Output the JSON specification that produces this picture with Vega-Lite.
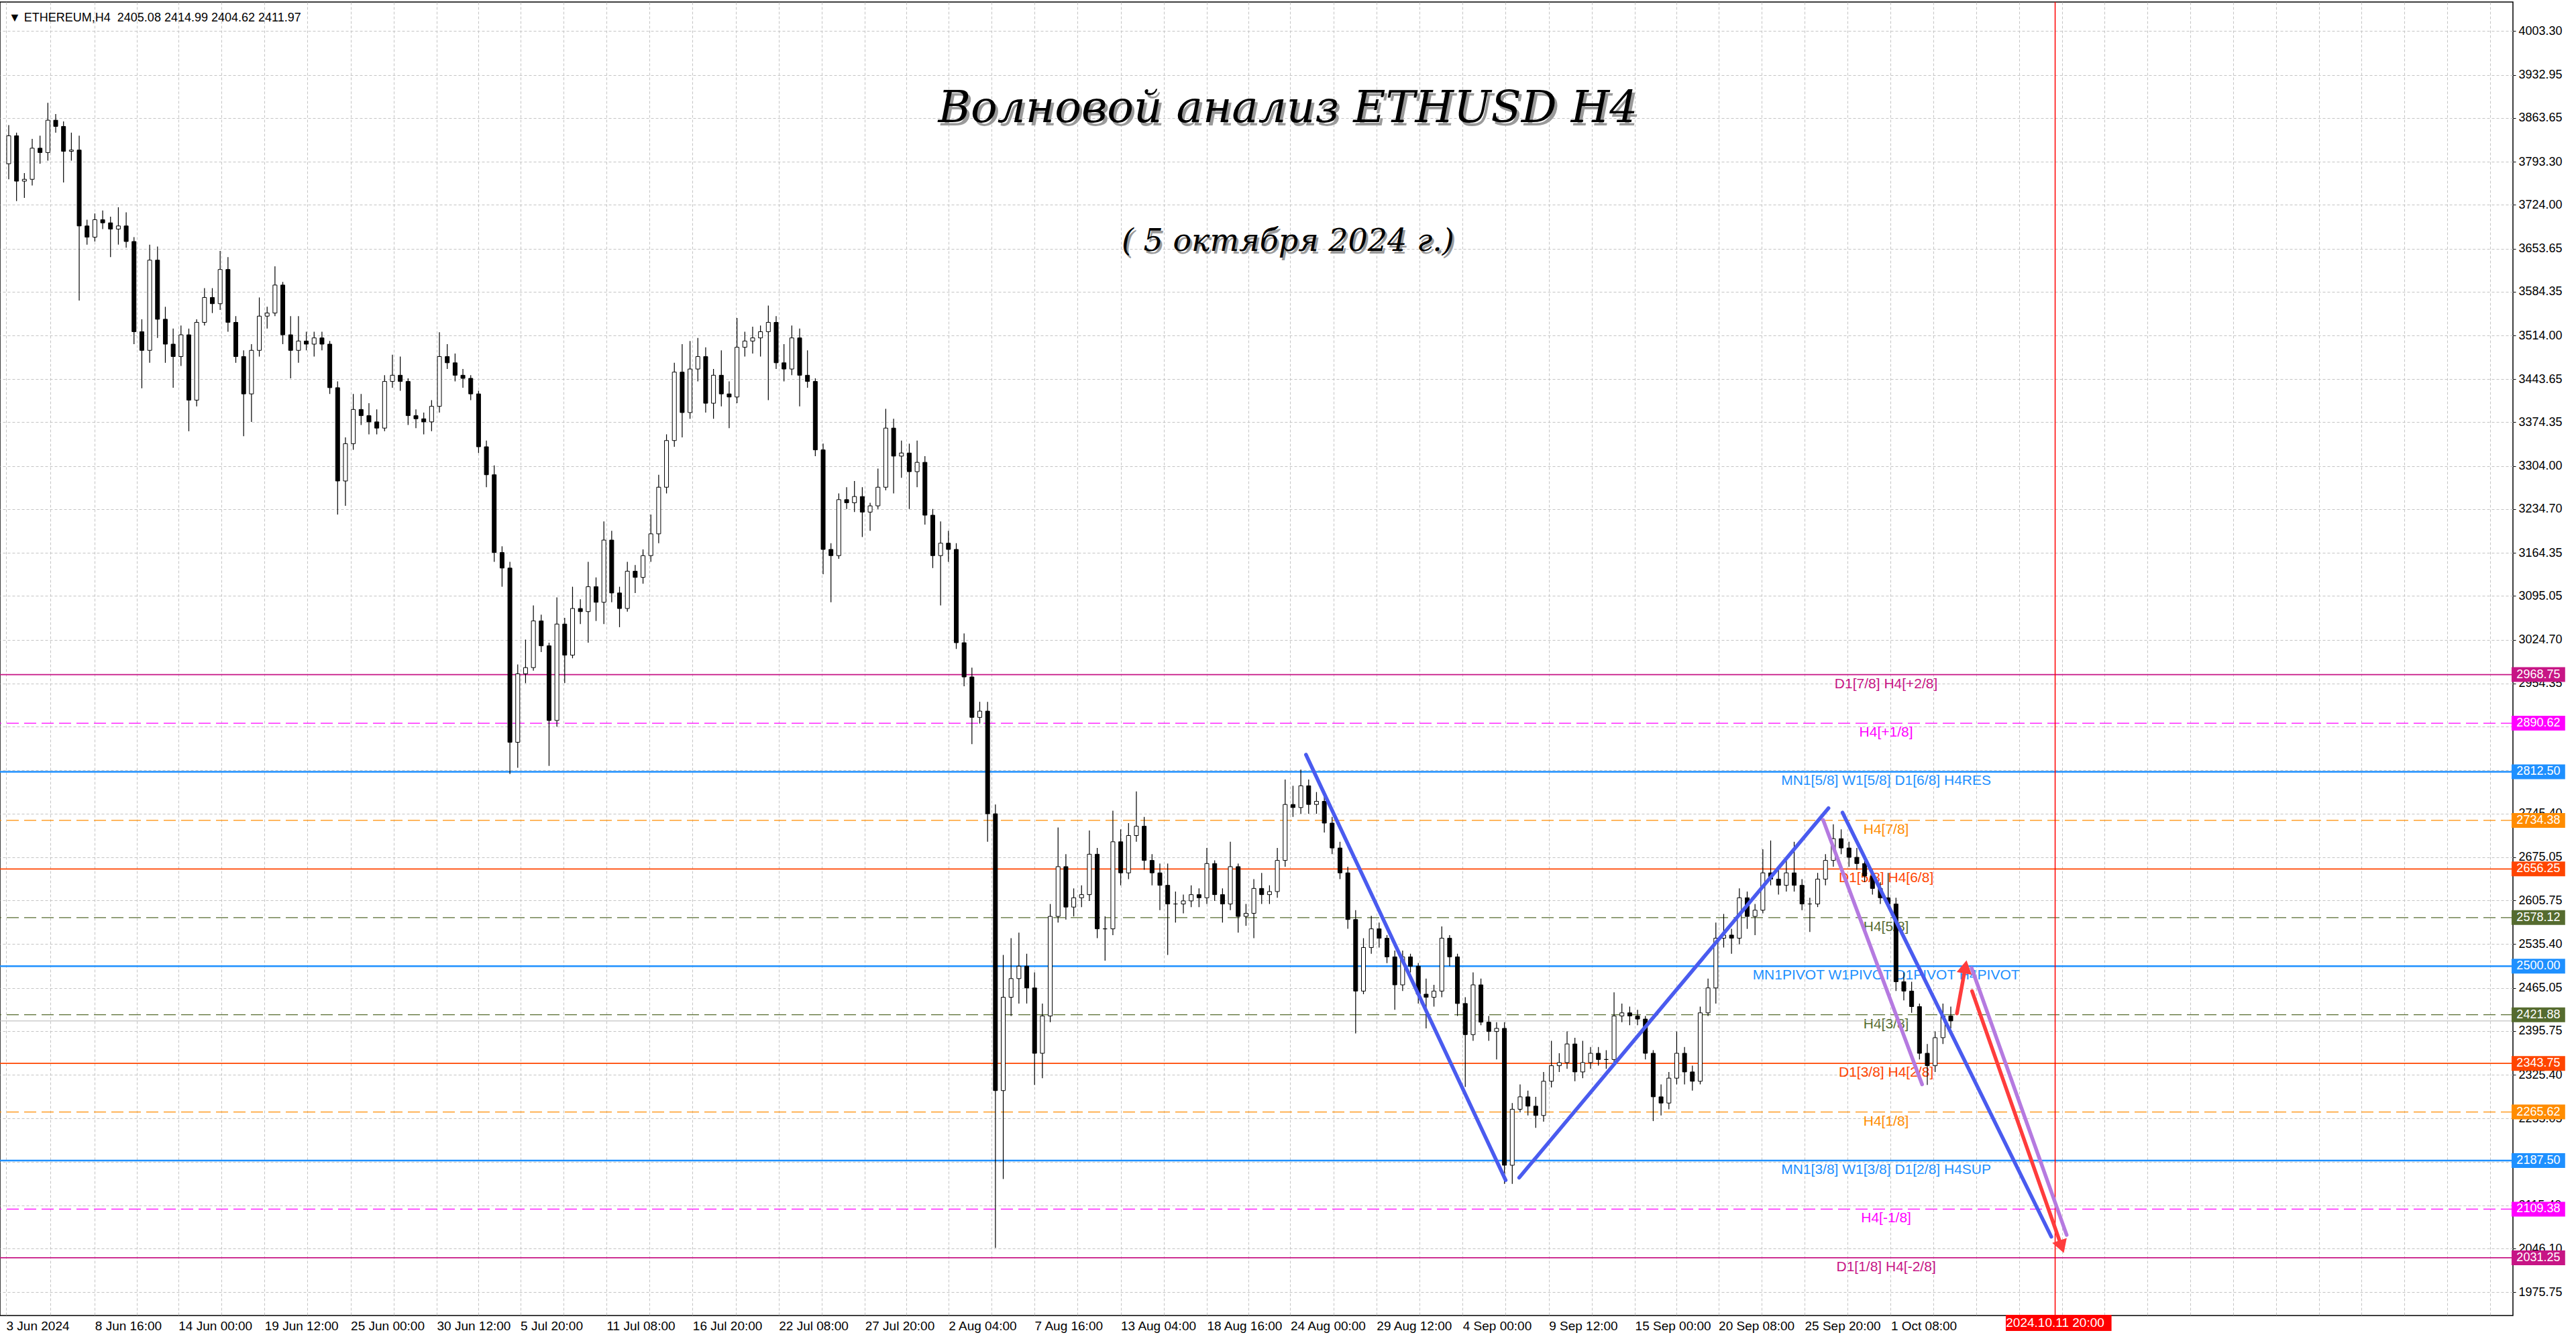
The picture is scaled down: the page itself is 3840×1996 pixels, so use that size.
{
  "$schema": "https://vega.github.io/schema/vega-lite/v6.json",
  "width": 3746,
  "height": 1958,
  "autosize": {"type": "none"},
  "padding": {"left": 0, "top": 3, "right": 94, "bottom": 35},
  "background": "#ffffff",
  "config": {
    "view": {"stroke": "#000000", "strokeWidth": 1.5},
    "text": {"font": "Liberation Sans"}
  },
  "data": {"values": [{}]},
  "datasets": {
    "levels": [
      {"name": "D1[7/8] H4[+2/8]", "p": 2968.75, "frame": "D1"},
      {"name": "H4[+1/8]", "p": 2890.62, "frame": "H4"},
      {"name": "MN1[5/8] W1[5/8] D1[6/8] H4RES", "p": 2812.50, "frame": "MN1"},
      {"name": "H4[7/8]", "p": 2734.38, "frame": "H4"},
      {"name": "D1[5/8] H4[6/8]", "p": 2656.25, "frame": "D1"},
      {"name": "H4[5/8]", "p": 2578.12, "frame": "H4"},
      {"name": "MN1PIVOT W1PIVOT D1PIVOT H4PIVOT", "p": 2500.00, "frame": "MN1"},
      {"name": "H4[3/8]", "p": 2421.88, "frame": "H4"},
      {"name": "D1[3/8] H4[2/8]", "p": 2343.75, "frame": "D1"},
      {"name": "H4[1/8]", "p": 2265.62, "frame": "H4"},
      {"name": "MN1[3/8] W1[3/8] D1[2/8] H4SUP", "p": 2187.50, "frame": "MN1"},
      {"name": "H4[-1/8]", "p": 2109.38, "frame": "H4"},
      {"name": "D1[1/8] H4[-2/8]", "p": 2031.25, "frame": "D1"}
    ],
    "waves": [
      {"kind": "wave", "t1": "2024-08-25T00:00", "p1": 2840, "t2": "2024-09-06T18:00", "p2": 2156},
      {"kind": "wave", "t1": "2024-09-07T14:40", "p1": 2160, "t2": "2024-09-27T08:40", "p2": 2754},
      {"kind": "wave", "t1": "2024-09-28T06:10", "p1": 2747, "t2": "2024-10-11T14:10", "p2": 2065},
      {"kind": "channel", "t1": "2024-09-27T00:30", "p1": 2735, "t2": "2024-10-03T08:10", "p2": 2310},
      {"kind": "channel", "t1": "2024-10-06T12:00", "p1": 2497, "t2": "2024-10-12T13:40", "p2": 2068},
      {"kind": "forecast", "t1": "2024-10-05T13:30", "p1": 2424, "t2": "2024-10-06T02:30", "p2": 2499},
      {"kind": "forecast", "t1": "2024-10-06T12:40", "p1": 2460, "t2": "2024-10-12T06:00", "p2": 2049}
    ],
    "candles": [
      {"t":"2024-06-03T00:00","o":3790,"h":3852,"l":3765,"c":3835},
      {"t":"2024-06-03T12:00","o":3835,"h":3840,"l":3730,"c":3762},
      {"t":"2024-06-04T00:00","o":3762,"h":3775,"l":3735,"c":3765},
      {"t":"2024-06-04T12:00","o":3765,"h":3830,"l":3755,"c":3815},
      {"t":"2024-06-05T00:00","o":3815,"h":3835,"l":3790,"c":3808},
      {"t":"2024-06-05T12:00","o":3808,"h":3888,"l":3795,"c":3860},
      {"t":"2024-06-06T00:00","o":3860,"h":3870,"l":3840,"c":3850},
      {"t":"2024-06-06T12:00","o":3850,"h":3858,"l":3760,"c":3810},
      {"t":"2024-06-07T00:00","o":3810,"h":3840,"l":3795,"c":3812},
      {"t":"2024-06-07T12:00","o":3812,"h":3835,"l":3570,"c":3690},
      {"t":"2024-06-08T00:00","o":3690,"h":3700,"l":3660,"c":3672},
      {"t":"2024-06-08T12:00","o":3672,"h":3710,"l":3665,"c":3700},
      {"t":"2024-06-09T00:00","o":3700,"h":3715,"l":3685,"c":3695},
      {"t":"2024-06-09T12:00","o":3695,"h":3705,"l":3640,"c":3685},
      {"t":"2024-06-10T00:00","o":3685,"h":3720,"l":3660,"c":3690},
      {"t":"2024-06-10T12:00","o":3690,"h":3712,"l":3655,"c":3665},
      {"t":"2024-06-11T00:00","o":3665,"h":3672,"l":3500,"c":3520},
      {"t":"2024-06-11T12:00","o":3520,"h":3540,"l":3429,"c":3490},
      {"t":"2024-06-12T00:00","o":3490,"h":3660,"l":3470,"c":3635},
      {"t":"2024-06-12T12:00","o":3635,"h":3657,"l":3510,"c":3540},
      {"t":"2024-06-13T00:00","o":3540,"h":3560,"l":3470,"c":3500},
      {"t":"2024-06-13T12:00","o":3500,"h":3525,"l":3430,"c":3480},
      {"t":"2024-06-14T00:00","o":3480,"h":3530,"l":3465,"c":3515},
      {"t":"2024-06-14T12:00","o":3515,"h":3525,"l":3360,"c":3410},
      {"t":"2024-06-15T00:00","o":3410,"h":3540,"l":3400,"c":3535},
      {"t":"2024-06-15T12:00","o":3535,"h":3590,"l":3530,"c":3575},
      {"t":"2024-06-16T00:00","o":3575,"h":3590,"l":3550,"c":3565},
      {"t":"2024-06-16T12:00","o":3565,"h":3650,"l":3555,"c":3620},
      {"t":"2024-06-17T00:00","o":3620,"h":3640,"l":3520,"c":3535},
      {"t":"2024-06-17T12:00","o":3535,"h":3545,"l":3470,"c":3480},
      {"t":"2024-06-18T00:00","o":3480,"h":3490,"l":3352,"c":3420},
      {"t":"2024-06-18T12:00","o":3420,"h":3500,"l":3375,"c":3490},
      {"t":"2024-06-19T00:00","o":3490,"h":3575,"l":3480,"c":3545},
      {"t":"2024-06-19T12:00","o":3545,"h":3560,"l":3525,"c":3550},
      {"t":"2024-06-20T00:00","o":3550,"h":3625,"l":3545,"c":3595},
      {"t":"2024-06-20T12:00","o":3595,"h":3600,"l":3500,"c":3515},
      {"t":"2024-06-21T00:00","o":3515,"h":3545,"l":3445,"c":3490},
      {"t":"2024-06-21T12:00","o":3490,"h":3545,"l":3470,"c":3505},
      {"t":"2024-06-22T00:00","o":3505,"h":3520,"l":3490,"c":3500},
      {"t":"2024-06-22T12:00","o":3500,"h":3520,"l":3480,"c":3510},
      {"t":"2024-06-23T00:00","o":3510,"h":3520,"l":3490,"c":3500},
      {"t":"2024-06-23T12:00","o":3500,"h":3505,"l":3420,"c":3430},
      {"t":"2024-06-24T00:00","o":3430,"h":3440,"l":3226,"c":3280},
      {"t":"2024-06-24T12:00","o":3280,"h":3350,"l":3240,"c":3340},
      {"t":"2024-06-25T00:00","o":3340,"h":3420,"l":3330,"c":3395},
      {"t":"2024-06-25T12:00","o":3395,"h":3420,"l":3370,"c":3385},
      {"t":"2024-06-26T00:00","o":3385,"h":3405,"l":3355,"c":3375},
      {"t":"2024-06-26T12:00","o":3375,"h":3395,"l":3355,"c":3365},
      {"t":"2024-06-27T00:00","o":3365,"h":3450,"l":3360,"c":3440},
      {"t":"2024-06-27T12:00","o":3440,"h":3483,"l":3430,"c":3450},
      {"t":"2024-06-28T00:00","o":3450,"h":3480,"l":3425,"c":3440},
      {"t":"2024-06-28T12:00","o":3440,"h":3445,"l":3370,"c":3385},
      {"t":"2024-06-29T00:00","o":3385,"h":3395,"l":3365,"c":3380},
      {"t":"2024-06-29T12:00","o":3380,"h":3390,"l":3355,"c":3375},
      {"t":"2024-06-30T00:00","o":3375,"h":3410,"l":3360,"c":3400},
      {"t":"2024-06-30T12:00","o":3400,"h":3519,"l":3390,"c":3480},
      {"t":"2024-07-01T00:00","o":3480,"h":3500,"l":3460,"c":3470},
      {"t":"2024-07-01T12:00","o":3470,"h":3485,"l":3440,"c":3450},
      {"t":"2024-07-02T00:00","o":3450,"h":3460,"l":3430,"c":3445},
      {"t":"2024-07-02T12:00","o":3445,"h":3450,"l":3410,"c":3420},
      {"t":"2024-07-03T00:00","o":3420,"h":3425,"l":3325,"c":3335},
      {"t":"2024-07-03T12:00","o":3335,"h":3345,"l":3270,"c":3290},
      {"t":"2024-07-04T00:00","o":3290,"h":3305,"l":3150,"c":3165},
      {"t":"2024-07-04T12:00","o":3165,"h":3175,"l":3110,"c":3140},
      {"t":"2024-07-05T00:00","o":3140,"h":3150,"l":2809,"c":2860},
      {"t":"2024-07-05T12:00","o":2860,"h":2985,"l":2819,"c":2970},
      {"t":"2024-07-06T00:00","o":2970,"h":3025,"l":2955,"c":2980},
      {"t":"2024-07-06T12:00","o":2980,"h":3080,"l":2975,"c":3055},
      {"t":"2024-07-07T00:00","o":3055,"h":3065,"l":3005,"c":3015},
      {"t":"2024-07-07T12:00","o":3015,"h":3020,"l":2822,"c":2895},
      {"t":"2024-07-08T00:00","o":2895,"h":3093,"l":2885,"c":3050},
      {"t":"2024-07-08T12:00","o":3050,"h":3060,"l":2955,"c":3000},
      {"t":"2024-07-09T00:00","o":3000,"h":3110,"l":2995,"c":3075},
      {"t":"2024-07-09T12:00","o":3075,"h":3090,"l":3050,"c":3070},
      {"t":"2024-07-10T00:00","o":3070,"h":3150,"l":3020,"c":3110},
      {"t":"2024-07-10T12:00","o":3110,"h":3125,"l":3055,"c":3085},
      {"t":"2024-07-11T00:00","o":3085,"h":3215,"l":3050,"c":3185},
      {"t":"2024-07-11T12:00","o":3185,"h":3200,"l":3085,"c":3100},
      {"t":"2024-07-12T00:00","o":3100,"h":3110,"l":3045,"c":3075},
      {"t":"2024-07-12T12:00","o":3075,"h":3150,"l":3070,"c":3135},
      {"t":"2024-07-13T00:00","o":3135,"h":3145,"l":3100,"c":3125},
      {"t":"2024-07-13T12:00","o":3125,"h":3170,"l":3115,"c":3160},
      {"t":"2024-07-14T00:00","o":3160,"h":3226,"l":3150,"c":3195},
      {"t":"2024-07-14T12:00","o":3195,"h":3290,"l":3180,"c":3270},
      {"t":"2024-07-15T00:00","o":3270,"h":3355,"l":3260,"c":3345},
      {"t":"2024-07-15T12:00","o":3345,"h":3470,"l":3335,"c":3455},
      {"t":"2024-07-16T00:00","o":3455,"h":3500,"l":3350,"c":3390},
      {"t":"2024-07-16T12:00","o":3390,"h":3505,"l":3380,"c":3460},
      {"t":"2024-07-17T00:00","o":3460,"h":3510,"l":3440,"c":3480},
      {"t":"2024-07-17T12:00","o":3480,"h":3495,"l":3390,"c":3405},
      {"t":"2024-07-18T00:00","o":3405,"h":3460,"l":3380,"c":3450},
      {"t":"2024-07-18T12:00","o":3450,"h":3490,"l":3400,"c":3420},
      {"t":"2024-07-19T00:00","o":3420,"h":3440,"l":3365,"c":3415},
      {"t":"2024-07-19T12:00","o":3415,"h":3542,"l":3405,"c":3495},
      {"t":"2024-07-20T00:00","o":3495,"h":3520,"l":3480,"c":3505},
      {"t":"2024-07-20T12:00","o":3505,"h":3528,"l":3485,"c":3510},
      {"t":"2024-07-21T00:00","o":3510,"h":3530,"l":3480,"c":3520},
      {"t":"2024-07-21T12:00","o":3520,"h":3562,"l":3410,"c":3535},
      {"t":"2024-07-22T00:00","o":3535,"h":3545,"l":3460,"c":3470},
      {"t":"2024-07-22T12:00","o":3470,"h":3500,"l":3440,"c":3460},
      {"t":"2024-07-23T00:00","o":3460,"h":3530,"l":3450,"c":3510},
      {"t":"2024-07-23T12:00","o":3510,"h":3525,"l":3400,"c":3450},
      {"t":"2024-07-24T00:00","o":3450,"h":3490,"l":3430,"c":3440},
      {"t":"2024-07-24T12:00","o":3440,"h":3445,"l":3320,"c":3330},
      {"t":"2024-07-25T00:00","o":3330,"h":3340,"l":3130,"c":3170},
      {"t":"2024-07-25T12:00","o":3170,"h":3180,"l":3085,"c":3160},
      {"t":"2024-07-26T00:00","o":3160,"h":3260,"l":3155,"c":3250},
      {"t":"2024-07-26T12:00","o":3250,"h":3270,"l":3235,"c":3245},
      {"t":"2024-07-27T00:00","o":3245,"h":3280,"l":3230,"c":3255},
      {"t":"2024-07-27T12:00","o":3255,"h":3270,"l":3190,"c":3230},
      {"t":"2024-07-28T00:00","o":3230,"h":3245,"l":3200,"c":3240},
      {"t":"2024-07-28T12:00","o":3240,"h":3300,"l":3235,"c":3270},
      {"t":"2024-07-29T00:00","o":3270,"h":3396,"l":3265,"c":3365},
      {"t":"2024-07-29T12:00","o":3365,"h":3380,"l":3260,"c":3320},
      {"t":"2024-07-30T00:00","o":3320,"h":3345,"l":3285,"c":3325},
      {"t":"2024-07-30T12:00","o":3325,"h":3340,"l":3235,"c":3295},
      {"t":"2024-07-31T00:00","o":3295,"h":3345,"l":3270,"c":3310},
      {"t":"2024-07-31T12:00","o":3310,"h":3320,"l":3210,"c":3225},
      {"t":"2024-08-01T00:00","o":3225,"h":3235,"l":3140,"c":3160},
      {"t":"2024-08-01T12:00","o":3160,"h":3215,"l":3080,"c":3180},
      {"t":"2024-08-02T00:00","o":3180,"h":3200,"l":3150,"c":3170},
      {"t":"2024-08-02T12:00","o":3170,"h":3180,"l":3010,"c":3020},
      {"t":"2024-08-03T00:00","o":3020,"h":3035,"l":2950,"c":2965},
      {"t":"2024-08-03T12:00","o":2965,"h":2980,"l":2857,"c":2900},
      {"t":"2024-08-04T00:00","o":2900,"h":2925,"l":2890,"c":2910},
      {"t":"2024-08-04T12:00","o":2910,"h":2925,"l":2700,"c":2745},
      {"t":"2024-08-05T00:00","o":2745,"h":2760,"l":2047,"c":2300},
      {"t":"2024-08-05T12:00","o":2300,"h":2518,"l":2158,"c":2450},
      {"t":"2024-08-06T00:00","o":2450,"h":2545,"l":2420,"c":2480},
      {"t":"2024-08-06T12:00","o":2480,"h":2554,"l":2440,"c":2500},
      {"t":"2024-08-07T00:00","o":2500,"h":2520,"l":2440,"c":2465},
      {"t":"2024-08-07T12:00","o":2465,"h":2490,"l":2309,"c":2360},
      {"t":"2024-08-08T00:00","o":2360,"h":2440,"l":2320,"c":2420},
      {"t":"2024-08-08T12:00","o":2420,"h":2600,"l":2410,"c":2580},
      {"t":"2024-08-09T00:00","o":2580,"h":2723,"l":2570,"c":2660},
      {"t":"2024-08-09T12:00","o":2660,"h":2680,"l":2575,"c":2595},
      {"t":"2024-08-10T00:00","o":2595,"h":2625,"l":2580,"c":2610},
      {"t":"2024-08-10T12:00","o":2610,"h":2630,"l":2595,"c":2615},
      {"t":"2024-08-11T00:00","o":2615,"h":2718,"l":2605,"c":2680},
      {"t":"2024-08-11T12:00","o":2680,"h":2690,"l":2545,"c":2560},
      {"t":"2024-08-12T00:00","o":2560,"h":2580,"l":2509,"c":2560},
      {"t":"2024-08-12T12:00","o":2560,"h":2750,"l":2550,"c":2700},
      {"t":"2024-08-13T00:00","o":2700,"h":2720,"l":2630,"c":2650},
      {"t":"2024-08-13T12:00","o":2650,"h":2730,"l":2640,"c":2710},
      {"t":"2024-08-14T00:00","o":2710,"h":2781,"l":2700,"c":2725},
      {"t":"2024-08-14T12:00","o":2725,"h":2740,"l":2655,"c":2670},
      {"t":"2024-08-15T00:00","o":2670,"h":2680,"l":2630,"c":2650},
      {"t":"2024-08-15T12:00","o":2650,"h":2665,"l":2590,"c":2630},
      {"t":"2024-08-16T00:00","o":2630,"h":2665,"l":2518,"c":2600},
      {"t":"2024-08-16T12:00","o":2600,"h":2620,"l":2570,"c":2600},
      {"t":"2024-08-17T00:00","o":2600,"h":2615,"l":2585,"c":2605},
      {"t":"2024-08-17T12:00","o":2605,"h":2630,"l":2595,"c":2615},
      {"t":"2024-08-18T00:00","o":2615,"h":2625,"l":2595,"c":2610},
      {"t":"2024-08-18T12:00","o":2610,"h":2690,"l":2600,"c":2665},
      {"t":"2024-08-19T00:00","o":2665,"h":2670,"l":2605,"c":2615},
      {"t":"2024-08-19T12:00","o":2615,"h":2625,"l":2570,"c":2600},
      {"t":"2024-08-20T00:00","o":2600,"h":2700,"l":2590,"c":2660},
      {"t":"2024-08-20T12:00","o":2660,"h":2665,"l":2554,"c":2580},
      {"t":"2024-08-21T00:00","o":2580,"h":2600,"l":2565,"c":2585},
      {"t":"2024-08-21T12:00","o":2585,"h":2640,"l":2545,"c":2625},
      {"t":"2024-08-22T00:00","o":2625,"h":2650,"l":2600,"c":2615},
      {"t":"2024-08-22T12:00","o":2615,"h":2630,"l":2600,"c":2620},
      {"t":"2024-08-23T00:00","o":2620,"h":2690,"l":2610,"c":2670},
      {"t":"2024-08-23T12:00","o":2670,"h":2800,"l":2660,"c":2760},
      {"t":"2024-08-24T00:00","o":2760,"h":2790,"l":2740,"c":2755},
      {"t":"2024-08-24T12:00","o":2755,"h":2816,"l":2745,"c":2790},
      {"t":"2024-08-25T00:00","o":2790,"h":2800,"l":2745,"c":2760},
      {"t":"2024-08-25T12:00","o":2760,"h":2780,"l":2745,"c":2765},
      {"t":"2024-08-26T00:00","o":2765,"h":2775,"l":2715,"c":2730},
      {"t":"2024-08-26T12:00","o":2730,"h":2740,"l":2680,"c":2690},
      {"t":"2024-08-27T00:00","o":2690,"h":2700,"l":2640,"c":2650},
      {"t":"2024-08-27T12:00","o":2650,"h":2660,"l":2560,"c":2575},
      {"t":"2024-08-28T00:00","o":2575,"h":2590,"l":2392,"c":2460},
      {"t":"2024-08-28T12:00","o":2460,"h":2545,"l":2455,"c":2530},
      {"t":"2024-08-29T00:00","o":2530,"h":2581,"l":2520,"c":2560},
      {"t":"2024-08-29T12:00","o":2560,"h":2570,"l":2530,"c":2545},
      {"t":"2024-08-30T00:00","o":2545,"h":2550,"l":2505,"c":2515},
      {"t":"2024-08-30T12:00","o":2515,"h":2525,"l":2430,"c":2470},
      {"t":"2024-08-31T00:00","o":2470,"h":2525,"l":2460,"c":2515},
      {"t":"2024-08-31T12:00","o":2515,"h":2520,"l":2490,"c":2500},
      {"t":"2024-09-01T00:00","o":2500,"h":2505,"l":2440,"c":2455},
      {"t":"2024-09-01T12:00","o":2455,"h":2480,"l":2400,"c":2450},
      {"t":"2024-09-02T00:00","o":2450,"h":2470,"l":2435,"c":2460},
      {"t":"2024-09-02T12:00","o":2460,"h":2564,"l":2450,"c":2545},
      {"t":"2024-09-03T00:00","o":2545,"h":2550,"l":2500,"c":2515},
      {"t":"2024-09-03T12:00","o":2515,"h":2520,"l":2420,"c":2440},
      {"t":"2024-09-04T00:00","o":2440,"h":2450,"l":2306,"c":2390},
      {"t":"2024-09-04T12:00","o":2390,"h":2490,"l":2380,"c":2470},
      {"t":"2024-09-05T00:00","o":2470,"h":2480,"l":2405,"c":2410},
      {"t":"2024-09-05T12:00","o":2410,"h":2420,"l":2380,"c":2395},
      {"t":"2024-09-06T00:00","o":2395,"h":2410,"l":2350,"c":2400},
      {"t":"2024-09-06T12:00","o":2400,"h":2410,"l":2150,"c":2180},
      {"t":"2024-09-07T00:00","o":2180,"h":2280,"l":2150,"c":2270},
      {"t":"2024-09-07T12:00","o":2270,"h":2310,"l":2265,"c":2290},
      {"t":"2024-09-08T00:00","o":2290,"h":2300,"l":2260,"c":2275},
      {"t":"2024-09-08T12:00","o":2275,"h":2290,"l":2240,"c":2260},
      {"t":"2024-09-09T00:00","o":2260,"h":2330,"l":2250,"c":2315},
      {"t":"2024-09-09T12:00","o":2315,"h":2380,"l":2305,"c":2340},
      {"t":"2024-09-10T00:00","o":2340,"h":2360,"l":2330,"c":2345},
      {"t":"2024-09-10T12:00","o":2345,"h":2395,"l":2335,"c":2375},
      {"t":"2024-09-11T00:00","o":2375,"h":2385,"l":2315,"c":2330},
      {"t":"2024-09-11T12:00","o":2330,"h":2380,"l":2320,"c":2345},
      {"t":"2024-09-12T00:00","o":2345,"h":2370,"l":2335,"c":2360},
      {"t":"2024-09-12T12:00","o":2360,"h":2370,"l":2340,"c":2350},
      {"t":"2024-09-13T00:00","o":2350,"h":2365,"l":2335,"c":2350},
      {"t":"2024-09-13T12:00","o":2350,"h":2458,"l":2345,"c":2420},
      {"t":"2024-09-14T00:00","o":2420,"h":2440,"l":2410,"c":2425},
      {"t":"2024-09-14T12:00","o":2425,"h":2435,"l":2405,"c":2420},
      {"t":"2024-09-15T00:00","o":2420,"h":2430,"l":2405,"c":2415},
      {"t":"2024-09-15T12:00","o":2415,"h":2420,"l":2350,"c":2360},
      {"t":"2024-09-16T00:00","o":2360,"h":2365,"l":2251,"c":2290},
      {"t":"2024-09-16T12:00","o":2290,"h":2310,"l":2260,"c":2280},
      {"t":"2024-09-17T00:00","o":2280,"h":2330,"l":2270,"c":2320},
      {"t":"2024-09-17T12:00","o":2320,"h":2395,"l":2310,"c":2360},
      {"t":"2024-09-18T00:00","o":2360,"h":2370,"l":2310,"c":2330},
      {"t":"2024-09-18T12:00","o":2330,"h":2340,"l":2300,"c":2315},
      {"t":"2024-09-19T00:00","o":2315,"h":2435,"l":2310,"c":2425},
      {"t":"2024-09-19T12:00","o":2425,"h":2480,"l":2420,"c":2465},
      {"t":"2024-09-20T00:00","o":2465,"h":2570,"l":2440,"c":2545},
      {"t":"2024-09-20T12:00","o":2545,"h":2584,"l":2530,"c":2550},
      {"t":"2024-09-21T00:00","o":2550,"h":2560,"l":2520,"c":2545},
      {"t":"2024-09-21T12:00","o":2545,"h":2625,"l":2535,"c":2610},
      {"t":"2024-09-22T00:00","o":2610,"h":2620,"l":2560,"c":2580},
      {"t":"2024-09-22T12:00","o":2580,"h":2600,"l":2550,"c":2590},
      {"t":"2024-09-23T00:00","o":2590,"h":2688,"l":2585,"c":2650},
      {"t":"2024-09-23T12:00","o":2650,"h":2702,"l":2630,"c":2640},
      {"t":"2024-09-24T00:00","o":2640,"h":2660,"l":2615,"c":2630},
      {"t":"2024-09-24T12:00","o":2630,"h":2670,"l":2620,"c":2650},
      {"t":"2024-09-25T00:00","o":2650,"h":2700,"l":2620,"c":2630},
      {"t":"2024-09-25T12:00","o":2630,"h":2640,"l":2590,"c":2600},
      {"t":"2024-09-26T00:00","o":2600,"h":2610,"l":2555,"c":2600},
      {"t":"2024-09-26T12:00","o":2600,"h":2650,"l":2595,"c":2640},
      {"t":"2024-09-27T00:00","o":2640,"h":2680,"l":2630,"c":2670},
      {"t":"2024-09-27T12:00","o":2670,"h":2728,"l":2660,"c":2705},
      {"t":"2024-09-28T00:00","o":2705,"h":2720,"l":2680,"c":2690},
      {"t":"2024-09-28T12:00","o":2690,"h":2700,"l":2660,"c":2675},
      {"t":"2024-09-29T00:00","o":2675,"h":2690,"l":2655,"c":2665},
      {"t":"2024-09-29T12:00","o":2665,"h":2675,"l":2635,"c":2645},
      {"t":"2024-09-30T00:00","o":2645,"h":2655,"l":2615,"c":2625},
      {"t":"2024-09-30T12:00","o":2625,"h":2635,"l":2600,"c":2610},
      {"t":"2024-10-01T00:00","o":2610,"h":2650,"l":2595,"c":2600},
      {"t":"2024-10-01T12:00","o":2600,"h":2610,"l":2460,"c":2475},
      {"t":"2024-10-02T00:00","o":2475,"h":2490,"l":2445,"c":2460},
      {"t":"2024-10-02T12:00","o":2460,"h":2475,"l":2425,"c":2435},
      {"t":"2024-10-03T00:00","o":2435,"h":2440,"l":2350,"c":2360},
      {"t":"2024-10-03T12:00","o":2360,"h":2375,"l":2309,"c":2340},
      {"t":"2024-10-04T00:00","o":2340,"h":2395,"l":2330,"c":2385},
      {"t":"2024-10-04T12:00","o":2385,"h":2440,"l":2375,"c":2420},
      {"t":"2024-10-05T00:00","o":2420,"h":2435,"l":2400,"c":2412}
    ]
  },
  "layer": [
    {
      "data": {"name": "levels"},
      "mark": {"type": "rule"},
      "encoding": {
        "y": {"field": "p", "type": "quantitative"},
        "color": {
          "field": "name", "type": "nominal", "legend": null,
          "scale": {
            "domain": ["D1[7/8] H4[+2/8]", "H4[+1/8]", "MN1[5/8] W1[5/8] D1[6/8] H4RES", "H4[7/8]", "D1[5/8] H4[6/8]", "H4[5/8]", "MN1PIVOT W1PIVOT D1PIVOT H4PIVOT", "H4[3/8]", "D1[3/8] H4[2/8]", "H4[1/8]", "MN1[3/8] W1[3/8] D1[2/8] H4SUP", "H4[-1/8]", "D1[1/8] H4[-2/8]"],
            "range": ["#C71585", "#FF00FF", "#1E90FF", "#FF8C00", "#FF4500", "#556B2F", "#1E90FF", "#556B2F", "#FF4500", "#FF8C00", "#1E90FF", "#FF00FF", "#C71585"]
          }
        },
        "strokeDash": {
          "field": "frame", "type": "nominal", "legend": null,
          "scale": {"domain": ["MN1", "D1", "H4"], "range": [[1, 0], [1, 0], [18, 8]]}
        },
        "strokeWidth": {
          "field": "frame", "type": "nominal", "legend": null,
          "scale": {"domain": ["MN1", "D1", "H4"], "range": [2.5, 1.3, 1.3]}
        }
      }
    },
    {
      "data": {"name": "levels"},
      "mark": {"type": "text", "align": "center", "baseline": "top", "dy": 3, "fontSize": 21, "font": "Liberation Sans"},
      "encoding": {
        "x": {"datum": {"year": 2024, "month": 10, "date": 1, "hours": 1}},
        "y": {"field": "p", "type": "quantitative"},
        "text": {"field": "name"},
        "color": {
          "field": "name", "type": "nominal", "legend": null,
          "scale": {
            "domain": ["D1[7/8] H4[+2/8]", "H4[+1/8]", "MN1[5/8] W1[5/8] D1[6/8] H4RES", "H4[7/8]", "D1[5/8] H4[6/8]", "H4[5/8]", "MN1PIVOT W1PIVOT D1PIVOT H4PIVOT", "H4[3/8]", "D1[3/8] H4[2/8]", "H4[1/8]", "MN1[3/8] W1[3/8] D1[2/8] H4SUP", "H4[-1/8]", "D1[1/8] H4[-2/8]"],
            "range": ["#C71585", "#FF00FF", "#1E90FF", "#FF8C00", "#FF4500", "#556B2F", "#1E90FF", "#556B2F", "#FF4500", "#FF8C00", "#1E90FF", "#FF00FF", "#C71585"]
          }
        }
      }
    },
    {
      "mark": {"type": "rule", "color": "#b4b4b4", "strokeWidth": 1},
      "encoding": {"y": {"datum": 2411.97}}
    },
    {
      "mark": {"type": "rule", "color": "#ff0000", "strokeWidth": 1.5},
      "encoding": {"x": {"datum": {"year": 2024, "month": 10, "date": 11, "hours": 20}}}
    },
    {
      "data": {"name": "candles"},
      "mark": {"type": "rule", "color": "#000000", "strokeWidth": 1.2, "xOffset": 4},
      "encoding": {
        "x": {
          "field": "t", "type": "temporal",
          "scale": {"domain": [{"year": 2024, "month": 6, "date": 2, "hours": 19, "minutes": 54}, {"year": 2024, "month": 11, "date": 9, "hours": 20, "minutes": 24}]},
          "axis": {
            "title": null,
            "values": {"expr": "[datetime(2024,5,3,0),datetime(2024,5,5,20),datetime(2024,5,8,16),datetime(2024,5,11,8),datetime(2024,5,14,0),datetime(2024,5,16,18),datetime(2024,5,19,12),datetime(2024,5,22,6),datetime(2024,5,25,0),datetime(2024,5,27,18),datetime(2024,5,30,12),datetime(2024,6,3,4),datetime(2024,6,5,20),datetime(2024,6,8,14),datetime(2024,6,11,8),datetime(2024,6,14,2),datetime(2024,6,16,20),datetime(2024,6,19,14),datetime(2024,6,22,8),datetime(2024,6,25,2),datetime(2024,6,27,20),datetime(2024,6,30,12),datetime(2024,7,2,4),datetime(2024,7,4,22),datetime(2024,7,7,16),datetime(2024,7,10,10),datetime(2024,7,13,4),datetime(2024,7,15,22),datetime(2024,7,18,16),datetime(2024,7,21,8),datetime(2024,7,24,0),datetime(2024,7,26,18),datetime(2024,7,29,12),datetime(2024,8,1,6),datetime(2024,8,4,0),datetime(2024,8,6,18),datetime(2024,8,9,12),datetime(2024,8,12,6),datetime(2024,8,15,0),datetime(2024,8,17,16),datetime(2024,8,20,8),datetime(2024,8,23,2),datetime(2024,8,25,20),datetime(2024,8,28,14),datetime(2024,9,1,8),datetime(2024,9,4,1,36),datetime(2024,9,6,19,12),datetime(2024,9,9,12,48),datetime(2024,9,12,6,24),datetime(2024,9,15,0),datetime(2024,9,17,17,36),datetime(2024,9,20,11,12),datetime(2024,9,23,4,48),datetime(2024,9,25,22,24),datetime(2024,9,28,16),datetime(2024,9,31,9,36),datetime(2024,10,3,3,12),datetime(2024,10,5,20,48),datetime(2024,10,8,14,24)]"},
            "format": "%-d %b %H:%M",
            "labelExpr": "indexof(['3 Jun 00:00','8 Jun 16:00','14 Jun 00:00','19 Jun 12:00','25 Jun 00:00','30 Jun 12:00','5 Jul 20:00','11 Jul 08:00','16 Jul 20:00','22 Jul 08:00','27 Jul 20:00','2 Aug 04:00','7 Aug 16:00','13 Aug 04:00','18 Aug 16:00','24 Aug 00:00','29 Aug 12:00','4 Sep 00:00','9 Sep 12:00','15 Sep 00:00','20 Sep 08:00','25 Sep 20:00','1 Oct 08:00'], datum.label) < 0 ? '' : (datum.label == '3 Jun 00:00' ? '3 Jun 2024' : datum.label)",
            "grid": true, "gridColor": "#c4c4c4", "gridDash": [4, 3], "gridWidth": 1,
            "ticks": false, "domain": false,
            "labelAlign": "left", "labelBaseline": "top", "labelPadding": 6, "labelDx": 1,
            "labelFont": "Liberation Sans", "labelFontSize": 19, "labelColor": "#000000",
            "labelOverlap": false, "labelFlush": false
          }
        },
        "y": {
          "field": "l", "type": "quantitative",
          "scale": {"domain": [1943.8, 4044.6], "nice": false, "zero": false},
          "axis": {
            "title": null, "orient": "right",
            "values": [4003.3, 3932.95, 3863.65, 3793.3, 3724, 3653.65, 3584.35, 3514, 3443.65, 3374.35, 3304, 3234.7, 3164.35, 3095.05, 3024.7, 2954.35, 2885.05, 2814.7, 2745.4, 2675.05, 2605.75, 2535.4, 2465.05, 2395.75, 2325.4, 2255.05, 2185.75, 2115.4, 2046.1, 1975.75],
            "format": ".2f",
            "grid": true, "gridColor": "#c4c4c4", "gridDash": [4, 3], "gridWidth": 1,
            "domain": false, "tickSize": 4, "tickColor": "#000000", "labelPadding": 4,
            "labelFont": "Liberation Sans", "labelFontSize": 18, "labelColor": "#000000",
            "labelOverlap": false, "labelFlush": false
          }
        },
        "y2": {"field": "h"}
      }
    },
    {
      "data": {"name": "candles"},
      "mark": {"type": "bar", "size": 6, "stroke": "#000000", "strokeWidth": 1, "xOffset": 4},
      "encoding": {
        "x": {"field": "t", "type": "temporal"},
        "y": {"field": "o", "type": "quantitative"},
        "y2": {"field": "c"},
        "fill": {"condition": {"test": "datum.c < datum.o", "value": "#000000"}, "value": "#ffffff"}
      }
    },
    {
      "data": {"name": "waves", "format": {"parse": {"t1": "date", "t2": "date"}}},
      "mark": {"type": "rule", "strokeWidth": 5.5, "strokeCap": "round"},
      "encoding": {
        "x": {"field": "t1", "type": "temporal"},
        "x2": {"field": "t2"},
        "y": {"field": "p1", "type": "quantitative"},
        "y2": {"field": "p2"},
        "stroke": {
          "field": "kind", "type": "nominal", "legend": null,
          "scale": {"domain": ["wave", "channel", "forecast"], "range": ["#4a5bef", "#b57ae0", "#ff3c3c"]}
        }
      }
    },
    {
      "data": {"name": "waves", "format": {"parse": {"t1": "date", "t2": "date"}}},
      "transform": [{"filter": "datum.kind == 'forecast' && datum.p2 > datum.p1"}],
      "mark": {"type": "point", "shape": "triangle-up", "filled": true, "size": 520, "angle": 10, "color": "#ff3c3c", "opacity": 1},
      "encoding": {
        "x": {"field": "t2", "type": "temporal"},
        "y": {"field": "p2", "type": "quantitative"}
      }
    },
    {
      "data": {"name": "waves", "format": {"parse": {"t1": "date", "t2": "date"}}},
      "transform": [{"filter": "datum.kind == 'forecast' && datum.p2 < datum.p1"}],
      "mark": {"type": "point", "shape": "triangle-up", "filled": true, "size": 520, "angle": 161, "color": "#ff3c3c", "opacity": 1},
      "encoding": {
        "x": {"field": "t2", "type": "temporal"},
        "y": {"field": "p2", "type": "quantitative"}
      }
    },
    {
      "data": {"name": "levels"},
      "mark": {"type": "bar", "size": 22},
      "encoding": {
        "x": {"datum": {"year": 2024, "month": 11, "date": 9, "hours": 23, "minutes": 30}},
        "x2": {"datum": {"year": 2024, "month": 11, "date": 13, "hours": 9, "minutes": 30}},
        "y": {"field": "p", "type": "quantitative"},
        "color": {
          "field": "name", "type": "nominal", "legend": null,
          "scale": {
            "domain": ["D1[7/8] H4[+2/8]", "H4[+1/8]", "MN1[5/8] W1[5/8] D1[6/8] H4RES", "H4[7/8]", "D1[5/8] H4[6/8]", "H4[5/8]", "MN1PIVOT W1PIVOT D1PIVOT H4PIVOT", "H4[3/8]", "D1[3/8] H4[2/8]", "H4[1/8]", "MN1[3/8] W1[3/8] D1[2/8] H4SUP", "H4[-1/8]", "D1[1/8] H4[-2/8]"],
            "range": ["#C71585", "#FF00FF", "#1E90FF", "#FF8C00", "#FF4500", "#556B2F", "#1E90FF", "#556B2F", "#FF4500", "#FF8C00", "#1E90FF", "#FF00FF", "#C71585"]
          }
        }
      }
    },
    {
      "data": {"name": "levels"},
      "mark": {"type": "text", "align": "center", "baseline": "middle", "fontSize": 18, "font": "Liberation Sans", "color": "#ffffff"},
      "encoding": {
        "x": {"datum": {"year": 2024, "month": 11, "date": 11, "hours": 16, "minutes": 30}},
        "y": {"field": "p", "type": "quantitative"},
        "text": {"field": "p", "type": "quantitative", "format": ".2f"}
      }
    },
    {
      "mark": {"type": "rect", "color": "#ff0000"},
      "encoding": {
        "x": {"datum": {"year": 2024, "month": 10, "date": 8, "hours": 16, "minutes": 24}},
        "x2": {"datum": {"year": 2024, "month": 10, "date": 15, "hours": 10, "minutes": 24}},
        "y": {"datum": 1939.5},
        "y2": {"datum": 1913.7}
      }
    },
    {
      "mark": {"type": "text", "align": "center", "baseline": "middle", "fontSize": 19, "font": "Liberation Sans", "color": "#ffffff"},
      "encoding": {
        "x": {"datum": {"year": 2024, "month": 10, "date": 11, "hours": 20}},
        "y": {"datum": 1926.6},
        "text": {"value": "2024.10.11 20:00"}
      }
    },
    {
      "mark": {"type": "text", "align": "center", "baseline": "middle", "fontSize": 66, "font": "DejaVu Serif", "fontStyle": "italic", "color": "#9a9a9a", "dx": 4, "dy": 5},
      "encoding": {
        "x": {"datum": {"year": 2024, "month": 8, "date": 23, "hours": 20, "minutes": 18}},
        "y": {"datum": 3878.3},
        "text": {"value": "Волновой анализ ETHUSD H4"}
      }
    },
    {
      "mark": {"type": "text", "align": "center", "baseline": "middle", "fontSize": 66, "font": "DejaVu Serif", "fontStyle": "italic", "color": "#000000"},
      "encoding": {
        "x": {"datum": {"year": 2024, "month": 8, "date": 23, "hours": 20, "minutes": 18}},
        "y": {"datum": 3878.3},
        "text": {"value": "Волновой анализ ETHUSD H4"}
      }
    },
    {
      "mark": {"type": "text", "align": "center", "baseline": "middle", "fontSize": 46, "font": "DejaVu Serif", "fontStyle": "italic", "color": "#9a9a9a", "dx": 3, "dy": 4},
      "encoding": {
        "x": {"datum": {"year": 2024, "month": 8, "date": 23, "hours": 20, "minutes": 18}},
        "y": {"datum": 3664.8},
        "text": {"value": "( 5 октября 2024 г.)"}
      }
    },
    {
      "mark": {"type": "text", "align": "center", "baseline": "middle", "fontSize": 46, "font": "DejaVu Serif", "fontStyle": "italic", "color": "#000000"},
      "encoding": {
        "x": {"datum": {"year": 2024, "month": 8, "date": 23, "hours": 20, "minutes": 18}},
        "y": {"datum": 3664.8},
        "text": {"value": "( 5 октября 2024 г.)"}
      }
    },
    {
      "mark": {"type": "text", "align": "left", "baseline": "middle", "fontSize": 18, "font": "Liberation Sans", "color": "#000000", "dx": 4},
      "encoding": {
        "x": {"datum": {"year": 2024, "month": 6, "date": 3, "hours": 0}},
        "y": {"datum": 4024.2},
        "text": {"value": "▼ ETHEREUM,H4\u00a0\u00a02405.08 2414.99 2404.62 2411.97"}
      }
    }
  ]
}
